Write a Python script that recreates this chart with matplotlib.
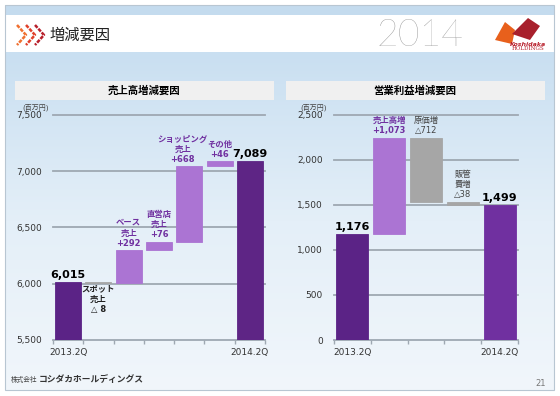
import numpy as np
import matplotlib
matplotlib.use('Agg')
import matplotlib.pyplot as plt
import matplotlib.patches as patches
from matplotlib.colors import LinearSegmentedColormap

plt.rcParams['font.family'] = ['DejaVu Sans', 'Noto Sans CJK JP']

# data
sales_cats = ['2013.2Q', 'spot', 'base', 'direct', 'shopping', 'other', '2014.2Q']
sales_vals = [6015, -8, 292, 76, 668, 46, 7089]
sales_notes = ['6,015', 'スポット\n売上\n△ 8', 'ベース\n売上\n+292', '直営店\n売上\n+76',
               'ショッピング\n売上\n+668', 'その他\n+46', '7,089']
sales_ticks = [5500, 6000, 6500, 7000, 7500]

profit_cats = ['2013.2Q', 'sales', 'cost', 'sga', '2014.2Q']
profit_vals = [1176, 1073, -712, -38, 1499]
profit_notes = ['1,176', '売上高増\n+1,073', '原価増\n△712', '販管\n費増\n△38', '1,499']
profit_ticks = [0, 500, 1000, 1500, 2000, 2500]

W, H = 560, 396
fig = plt.figure(figsize=(W / 100, H / 100), dpi=100)
fig.patch.set_facecolor('white')


def px(x, y):
    return x / W, 1 - y / H


def box(x0, y0, x1, y1, **kw):
    fx, fy = px(x0, y1)
    r = patches.Rectangle((fx, fy), (x1 - x0) / W, (y1 - y0) / H, transform=fig.transFigure, **kw)
    fig.add_artist(r)
    return r

# slide background
box(5, 5, 554, 15, facecolor='#c4dbee', edgecolor='none', zorder=0)
box(5, 5, 554, 390, facecolor='none', edgecolor='#b8c6d2', lw=0.8, zorder=3)
bg = fig.add_axes([5 / W, 1 - 390 / H, 549 / W, 338 / H], zorder=-5)
grad = np.linspace(0, 1, 256).reshape(-1, 1)
cmap = LinearSegmentedColormap.from_list('bg', ['#c9dff1', '#e4eff8', '#f1f6fb'])
bg.imshow(grad, aspect='auto', cmap=cmap, extent=[0, 1, 0, 1])
bg.axis('off')

# header
for i, c in enumerate(['#f07030', '#e0402a', '#b8202c']):
    x0 = 17 + i * 9
    xs = [px(x0, 25)[0], px(x0 + 9, 35)[0], px(x0, 45)[0]]
    ys = [px(x0, 25)[1], px(x0 + 9, 35)[1], px(x0, 45)[1]]
    fig.add_artist(plt.Line2D(xs, ys, color=c, lw=1.8, ls=(0, (1.5, 0.5)), transform=fig.transFigure))
fig.text(*px(50, 35), '増減要因', fontsize=11, va='center', ha='left', color='#222222')
fig.text(*px(420, 36), '2014', fontsize=27, va='center', ha='center', color='#8c8c8c',
         family=['Lato', 'DejaVu Sans'], fontweight='light')
# logo
fig.add_artist(patches.Polygon([px(495, 40), px(505, 22), px(515, 30), px(512, 44)], closed=True,
                               transform=fig.transFigure, facecolor='#e8601c', edgecolor='none'))
fig.add_artist(patches.Polygon([px(512, 34), px(528, 18), px(540, 26), px(530, 40)], closed=True,
                               transform=fig.transFigure, facecolor='#a8202c', edgecolor='none'))
fig.text(*px(528, 44), 'Koshidaka', fontsize=4.5, ha='center', va='center', color='#b8202c',
         fontstyle='italic', fontweight='bold')
fig.text(*px(528, 49), 'HOLDINGS', fontsize=4, ha='center', va='center', color='#b8202c', family='serif')

# chart title bars
box(15, 81, 274, 100, facecolor='#f0f0f0', edgecolor='none', zorder=1)
box(286, 81, 545, 100, facecolor='#f0f0f0', edgecolor='none', zorder=1)
fig.text(*px(144, 90.5), '売上高増減要因', fontsize=7.5, fontweight='bold', ha='center', va='center')
fig.text(*px(415, 90.5), '営業利益増減要因', fontsize=7.5, fontweight='bold', ha='center', va='center')

# footer
fig.text(*px(11, 379), '株式会社', fontsize=4.8, ha='left', va='center', color='#444444')
fig.text(*px(39, 379), 'コシダカホールディングス', fontsize=6.3, ha='left', va='center',
         color='#333333', fontweight='bold')
fig.text(*px(546, 383), '21', fontsize=6, ha='right', va='center', color='#777777')

DARK = '#5b2386'
LIGHT = '#ab74d3'
GRAY = '#a6a6a6'
GRID = '#9ea8b2'


def waterfall(rect, vals, notes, ticks, final_color, width, unit_x, nudge=None):
    ax = fig.add_axes(rect)
    ax.patch.set_alpha(0)
    n = len(vals)
    x = np.arange(n)
    nudge = nudge or {}
    run = vals[0]
    bottoms, heights, colors = [], [], []
    for i, v in enumerate(vals):
        if i == 0:
            bottoms.append(0); heights.append(v); colors.append(DARK)
        elif i == n - 1:
            bottoms.append(0); heights.append(v); colors.append(final_color)
        else:
            bottoms.append(run + min(v, 0)); heights.append(abs(v))
            colors.append(LIGHT if v > 0 else GRAY)
            run += v
    ax.bar(x, heights, bottom=bottoms, width=width, color=colors, edgecolor=colors, lw=0.6, zorder=3)
    ax.set_ylim(ticks[0], ticks[-1])
    ax.set_xlim(-0.5, n - 0.5)
    ax.set_yticks(ticks)
    ax.set_yticklabels([f'{t:,}' for t in ticks], fontsize=6.5, color='#333333')
    for t in ticks:
        ax.axhline(t, color=GRID, lw=1.3, zorder=1, clip_on=False)
    ax.set_xticks([0, n - 1])
    ax.set_xticklabels(['2013.2Q', '2014.2Q'], fontsize=6.5, color='#333333')
    ax.set_xticks(np.arange(-0.5, n), minor=True)
    ax.tick_params(axis='x', which='major', length=0, pad=6)
    ax.tick_params(axis='x', which='minor', length=3, color=GRID, width=1)
    ax.tick_params(axis='y', length=0, pad=8)
    for s in ax.spines.values():
        s.set_visible(False)
    span = ticks[-1] - ticks[0]
    for i, note in enumerate(notes):
        top = bottoms[i] + heights[i]
        xt = x[i] + nudge.get(i, 0)
        if i == 0 or i == n - 1:
            ax.text(xt, top + span * 0.01, note, ha='center', va='bottom', fontsize=8,
                    fontweight='bold', color='black', zorder=4)
        elif vals[i] > 0:
            ax.text(xt, top + span * 0.01, note, ha='center', va='bottom', fontsize=6,
                    fontweight='bold', color='#7030a0', linespacing=1.2, zorder=4)
        elif abs(vals[i]) < span * 0.01:
            ax.text(xt, bottoms[i] - span * 0.006, note, ha='center', va='top', fontsize=6,
                    fontweight='bold', color='#222222', linespacing=1.2, zorder=4)
        else:
            ax.text(xt, top + span * 0.01, note, ha='center', va='bottom', fontsize=6,
                    color='#444444', linespacing=1.2, zorder=4)
    fx, fy = px(unit_x, 107)
    fig.text(fx, fy, '(百万円)', fontsize=5, ha='left', va='center', color='#444444')
    return ax


waterfall([53 / W, 1 - 340 / H, 212 / W, 225 / H], sales_vals, sales_notes, sales_ticks,
          '#5e2585', 0.86, 22, nudge={4: -0.22})
waterfall([334 / W, 1 - 340 / H, 184 / W, 225 / H], profit_vals, profit_notes, profit_ticks,
          '#7030a0', 0.87, 300)

fig.savefig('out.png', dpi=100)
